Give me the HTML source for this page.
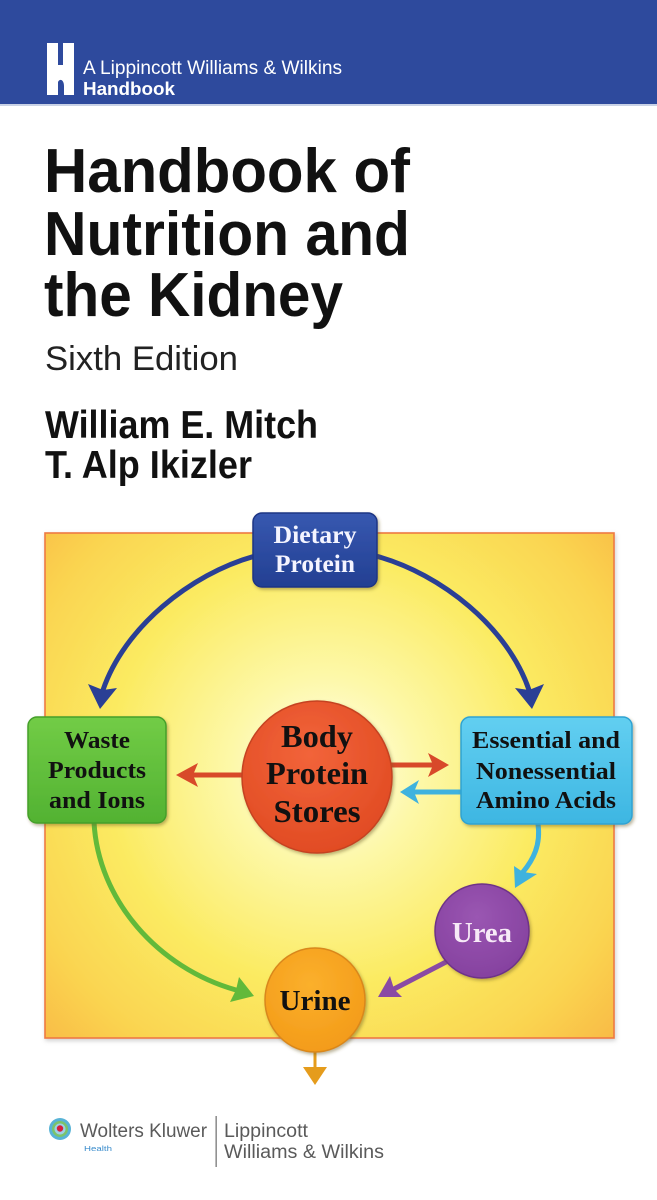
<!DOCTYPE html>
<html>
<head>
<meta charset="utf-8">
<style>
html,body{margin:0;padding:0;background:#fff;}
body{width:657px;height:1200px;overflow:hidden;position:relative;}
svg{position:absolute;left:0;top:0;}
</style>
</head>
<body>
<svg width="657" height="1200" viewBox="0 0 657 1200" xmlns="http://www.w3.org/2000/svg">
<defs>
  <radialGradient id="bg" gradientUnits="userSpaceOnUse" cx="325" cy="770" r="430">
    <stop offset="0" stop-color="#fffef0"/>
    <stop offset="0.22" stop-color="#fdf8a8"/>
    <stop offset="0.5" stop-color="#fbeb62"/>
    <stop offset="0.75" stop-color="#fad450"/>
    <stop offset="1" stop-color="#f8ae40"/>
  </radialGradient>
  <linearGradient id="gBlue" x1="0" y1="0" x2="0" y2="1">
    <stop offset="0" stop-color="#3758b0"/><stop offset="1" stop-color="#233f92"/>
  </linearGradient>
  <linearGradient id="gGreen" x1="0" y1="0" x2="0" y2="1">
    <stop offset="0" stop-color="#72cc46"/><stop offset="1" stop-color="#52b232"/>
  </linearGradient>
  <linearGradient id="gCyan" x1="0" y1="0" x2="0" y2="1">
    <stop offset="0" stop-color="#62cff1"/><stop offset="1" stop-color="#3db6e2"/>
  </linearGradient>
  <radialGradient id="gRed" cx="0.45" cy="0.35" r="0.7">
    <stop offset="0" stop-color="#f2643a"/><stop offset="1" stop-color="#e04a22"/>
  </radialGradient>
  <radialGradient id="gPurple" cx="0.45" cy="0.35" r="0.7">
    <stop offset="0" stop-color="#9a56b2"/><stop offset="1" stop-color="#84409e"/>
  </radialGradient>
  <radialGradient id="gOrange" cx="0.45" cy="0.35" r="0.7">
    <stop offset="0" stop-color="#fbb02c"/><stop offset="1" stop-color="#f39a18"/>
  </radialGradient>
  <filter id="sh" x="-20%" y="-20%" width="140%" height="140%">
    <feDropShadow dx="1.5" dy="2" stdDeviation="1.5" flood-color="#6a5a20" flood-opacity="0.45"/>
  </filter>
  <filter id="sh2" x="-5%" y="-5%" width="110%" height="110%">
    <feDropShadow dx="1" dy="2" stdDeviation="2" flood-color="#888" flood-opacity="0.4"/>
  </filter>
</defs>

<!-- Header -->
<rect x="0" y="0" width="657" height="104" fill="#2e4a9d"/>
<rect x="0" y="104" width="657" height="2" fill="#c9d2e6"/>
<path d="M47,43 H58 V65 H63 V43 H74 V95 H64 V86 C64,80 60,78 58,82 V95 H47 Z" fill="#ffffff"/>
<text x="83" y="74" font-family="Liberation Sans, sans-serif" font-size="19" fill="#ffffff" textLength="259" lengthAdjust="spacingAndGlyphs">A Lippincott Williams &amp; Wilkins</text>
<text x="83" y="95" font-family="Liberation Sans, sans-serif" font-weight="bold" font-size="18" fill="#ffffff" textLength="92" lengthAdjust="spacingAndGlyphs">Handbook</text>

<!-- Title -->
<g font-family="Liberation Sans, sans-serif" fill="#111111">
  <text x="44" y="192" font-size="62" font-weight="bold" textLength="366" lengthAdjust="spacingAndGlyphs">Handbook of</text>
  <text x="44" y="255" font-size="62" font-weight="bold" textLength="366" lengthAdjust="spacingAndGlyphs">Nutrition and</text>
  <text x="44" y="316" font-size="62" font-weight="bold" textLength="299" lengthAdjust="spacingAndGlyphs">the Kidney</text>
  <text x="45" y="370" font-size="34" fill="#222" textLength="193" lengthAdjust="spacingAndGlyphs">Sixth Edition</text>
  <text x="45" y="438" font-size="39" font-weight="bold" textLength="273" lengthAdjust="spacingAndGlyphs">William E. Mitch</text>
  <text x="45" y="478" font-size="39" font-weight="bold" textLength="207" lengthAdjust="spacingAndGlyphs">T. Alp Ikizler</text>
</g>

<!-- Diagram background -->
<rect x="45" y="533" width="569" height="505" fill="url(#bg)" stroke="#ee7a42" stroke-width="1.6" filter="url(#sh2)"/>

<!-- Arrows -->
<g fill="none" stroke-linecap="round">
  <path d="M255,556 C190,574 124,628 103,690" stroke="#2a3f95" stroke-width="5"/>
  <path d="M376,556 C442,574 508,628 529,690" stroke="#2a3f95" stroke-width="5"/>
  <line x1="244" y1="775" x2="194" y2="775" stroke="#d8492a" stroke-width="5"/>
  <line x1="390" y1="765" x2="432" y2="765" stroke="#d8492a" stroke-width="5"/>
  <line x1="462" y1="792" x2="414" y2="792" stroke="#3fb2de" stroke-width="5"/>
  <path d="M94,822 C98,900 158,968 236,990" stroke="#62b93a" stroke-width="5"/>
  <path d="M538,824 C541,845 533,860 523,872" stroke="#3fb2de" stroke-width="5"/>
  <line x1="446" y1="962" x2="394" y2="989" stroke="#8a4aa4" stroke-width="5"/>
  <line x1="315" y1="1050" x2="315" y2="1070" stroke="#e59c1c" stroke-width="3"/>
</g>
<g>
  <polygon points="100,709 88,684 103,690 117,688" fill="#2a3f95"/>
  <polygon points="532,709 544,684 529,690 515,688" fill="#2a3f95"/>
  <polygon points="176,775 198,763 193,775 198,787" fill="#d8492a"/>
  <polygon points="449,765 428,753 433,765 428,777" fill="#d8492a"/>
  <polygon points="400,792 419,780 414,792 419,804" fill="#3fb2de"/>
  <polygon points="254,996 239,977 236,990 230,1002" fill="#62b93a"/>
  <polygon points="515,888 514,866 523,872 537,874" fill="#3fb2de"/>
  <polygon points="378,997 390,976 394,989 402,997" fill="#8a4aa4"/>
  <polygon points="315,1085 303,1067 327,1067" fill="#e59c1c"/>
</g>

<!-- Nodes -->
<rect x="253" y="513" width="124" height="74" rx="9" fill="url(#gBlue)" stroke="#1c3584" stroke-width="1.5" filter="url(#sh)"/>
<rect x="28" y="717" width="138" height="106" rx="9" fill="url(#gGreen)" stroke="#44a02a" stroke-width="1.5" filter="url(#sh)"/>
<rect x="461" y="717" width="171" height="107" rx="9" fill="url(#gCyan)" stroke="#2fa3d2" stroke-width="1.5" filter="url(#sh)"/>
<ellipse cx="317" cy="777" rx="75" ry="76" fill="url(#gRed)" stroke="#c54320" stroke-width="1.5" filter="url(#sh)"/>
<ellipse cx="482" cy="931" rx="47" ry="47" fill="url(#gPurple)" stroke="#6e3388" stroke-width="1.5" filter="url(#sh)"/>
<ellipse cx="315" cy="1000" rx="50" ry="52" fill="url(#gOrange)" stroke="#d9871a" stroke-width="1.5" filter="url(#sh)"/>

<!-- Node labels -->
<g font-family="Liberation Serif, serif" font-weight="bold" text-anchor="middle">
  <text x="315" y="543" font-size="25" fill="#f4f4ff" textLength="83" lengthAdjust="spacingAndGlyphs">Dietary</text>
  <text x="315" y="572" font-size="25" fill="#f4f4ff" textLength="80" lengthAdjust="spacingAndGlyphs">Protein</text>

  <text x="97" y="748" font-size="24" fill="#111" textLength="66" lengthAdjust="spacingAndGlyphs">Waste</text>
  <text x="97" y="778" font-size="24" fill="#111" textLength="98" lengthAdjust="spacingAndGlyphs">Products</text>
  <text x="97" y="808" font-size="24" fill="#111" textLength="96" lengthAdjust="spacingAndGlyphs">and Ions</text>

  <text x="546" y="748" font-size="24" fill="#111" textLength="148" lengthAdjust="spacingAndGlyphs">Essential and</text>
  <text x="546" y="779" font-size="24" fill="#111" textLength="140" lengthAdjust="spacingAndGlyphs">Nonessential</text>
  <text x="546" y="808" font-size="24" fill="#111" textLength="140" lengthAdjust="spacingAndGlyphs">Amino Acids</text>

  <text x="317" y="747" font-size="32" fill="#111" textLength="72" lengthAdjust="spacingAndGlyphs">Body</text>
  <text x="317" y="784" font-size="32" fill="#111" textLength="102" lengthAdjust="spacingAndGlyphs">Protein</text>
  <text x="317" y="822" font-size="32" fill="#111" textLength="87" lengthAdjust="spacingAndGlyphs">Stores</text>

  <text x="482" y="942" font-size="29" fill="#f7eaf7" textLength="60" lengthAdjust="spacingAndGlyphs">Urea</text>
  <text x="315" y="1010" font-size="29" fill="#111" textLength="71" lengthAdjust="spacingAndGlyphs">Urine</text>
</g>

<!-- Publisher logo -->
<circle cx="60" cy="1129" r="11" fill="#58b3d6"/>
<circle cx="60" cy="1129" r="8" fill="#7cc46a"/>
<circle cx="60" cy="1129" r="5.5" fill="#9bd0e6"/>
<circle cx="60" cy="1128.5" r="3.2" fill="#d6203a"/>
<g font-family="Liberation Sans, sans-serif" fill="#5a5a5a">
  <text x="80" y="1137" font-size="19" textLength="127" lengthAdjust="spacingAndGlyphs">Wolters Kluwer</text>
  <text x="84" y="1151" font-size="7.5" fill="#3a8ccc" textLength="28" lengthAdjust="spacingAndGlyphs">Health</text>
  <text x="224" y="1137" font-size="19" textLength="84" lengthAdjust="spacingAndGlyphs">Lippincott</text>
  <text x="224" y="1158" font-size="19" textLength="160" lengthAdjust="spacingAndGlyphs">Williams &amp; Wilkins</text>
</g>
<rect x="215.5" y="1116" width="1.3" height="51" fill="#777"/>
</svg>
</body>
</html>
